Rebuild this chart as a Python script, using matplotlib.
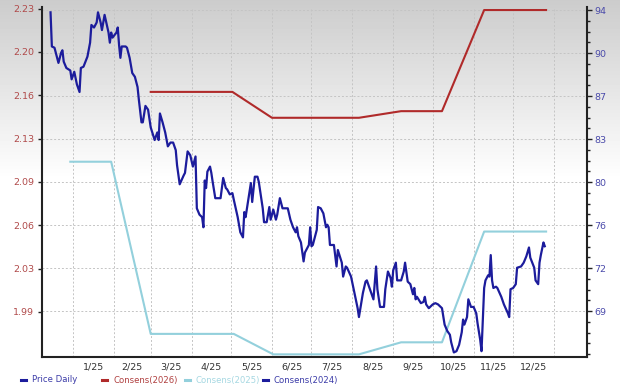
import numpy as np
import pandas as pd
import matplotlib
matplotlib.use("Agg")
import matplotlib.pyplot as plt
from matplotlib.lines import Line2D
from matplotlib.ticker import FixedLocator, NullFormatter, AutoMinorLocator

# days counted from 2025-01-01, daily close
price_day = [-17, -16, -14, -11, -9, -8, -7, -5, -2, -1, 1, 3, 5, 6, 8, 11, 13, 14, 16, 18,
             19, 21, 22, 24, 27, 28, 29, 30, 33, 34, 35, 36, 37, 40, 41, 43, 45, 47, 49, 50,
             52, 53, 55, 57, 59, 62, 64, 65, 66, 68, 70, 72, 74, 76, 78, 79, 81, 84, 85, 87,
             89, 91, 93, 94, 96, 98, 99, 100, 101, 102, 104, 105, 106, 108, 112, 114, 116, 117, 119, 121,
             122, 125, 127, 129, 130, 131, 135, 136, 138, 140, 141, 144, 145, 147, 149, 150, 152, 154, 155, 157,
             159, 163, 165, 167, 169, 170, 171, 173, 175, 176, 179, 180, 181, 182, 185, 186, 188, 190, 192, 193,
             194, 195, 197, 198, 200, 201, 204, 205, 207, 208, 211, 213, 216, 217, 220, 222, 223, 226, 228, 230,
             231, 233, 236, 237, 239, 241, 242, 243, 245, 246, 249, 251, 252, 254, 256, 258, 259, 260, 261, 264,
             266, 267, 268, 270, 271, 273, 275, 277, 280, 282, 284, 286, 287, 289, 291, 293, 295, 296, 297, 299,
             300, 302, 304, 306, 307, 309, 310, 312, 313, 315, 316, 317, 318, 319, 321, 322, 325, 327, 330, 331,
             332, 334, 336, 337, 340, 342, 344, 346, 347, 350, 351, 353, 354, 355, 357, 358]
price_val = [2.227, 2.200, 2.199, 2.187, 2.195, 2.197, 2.188, 2.183, 2.181, 2.174, 2.180, 2.170, 2.164, 2.183, 2.184, 2.192, 2.203, 2.217, 2.215, 2.219,
             2.227, 2.219, 2.213, 2.225, 2.211, 2.203, 2.211, 2.207, 2.211, 2.215, 2.201, 2.191, 2.200, 2.200, 2.199, 2.191, 2.179, 2.176, 2.168, 2.158,
             2.140, 2.140, 2.153, 2.150, 2.136, 2.126, 2.132, 2.126, 2.147, 2.140, 2.132, 2.121, 2.124, 2.124, 2.118, 2.106, 2.091, 2.098, 2.100, 2.117,
             2.114, 2.105, 2.113, 2.072, 2.067, 2.065, 2.057, 2.094, 2.088, 2.101, 2.105, 2.100, 2.093, 2.080, 2.080, 2.096, 2.088, 2.087, 2.083, 2.084,
             2.079, 2.065, 2.053, 2.049, 2.069, 2.065, 2.092, 2.077, 2.097, 2.097, 2.093, 2.072, 2.061, 2.061, 2.073, 2.063, 2.071, 2.063, 2.067, 2.080,
             2.072, 2.072, 2.063, 2.057, 2.053, 2.057, 2.050, 2.045, 2.030, 2.037, 2.043, 2.057, 2.042, 2.043, 2.055, 2.073, 2.072, 2.068, 2.057, 2.059,
             2.057, 2.043, 2.043, 2.043, 2.026, 2.039, 2.029, 2.018, 2.026, 2.025, 2.018, 2.008, 1.993, 1.986, 2.005, 2.014, 2.015, 2.006, 2.000, 2.026,
             2.008, 1.994, 1.994, 2.008, 2.022, 2.017, 2.010, 2.023, 2.029, 2.015, 2.015, 2.022, 2.029, 2.014, 2.012, 2.004, 2.009, 2.000, 2.002, 1.997,
             1.998, 2.002, 1.996, 1.993, 1.994, 1.996, 1.997, 1.996, 1.993, 1.980, 1.975, 1.972, 1.966, 1.958, 1.959, 1.964, 1.974, 1.984, 1.980, 1.986,
             2.000, 1.994, 1.994, 1.989, 1.981, 1.968, 1.959, 2.009, 2.015, 2.019, 2.018, 2.035, 2.015, 2.009, 2.010, 2.009, 2.002, 1.996, 1.989, 1.986,
             2.008, 2.009, 2.012, 2.025, 2.026, 2.029, 2.034, 2.041, 2.033, 2.025, 2.015, 2.012, 2.029, 2.035, 2.045, 2.042]

cons26_day = [59, 121, 151, 217, 249, 280, 312, 359]
cons26_val = [87.2, 87.2, 85.05, 85.05, 85.6, 85.6, 94.0, 94.0]

cons25_day = [-2, 29, 59, 122, 152, 217, 249, 280, 312, 359]
cons25_val = [81.4, 81.4, 67.1, 67.1, 65.4, 65.4, 66.4, 66.4, 75.6, 75.6]

cons24_day = []
cons24_val = []

left_labels = ['2.23', '2.20', '2.16', '2.13', '2.09', '2.06', '2.03', '1.99']
right_labels = ['94', '90', '87', '83', '80', '76', '72', '69']

navy = '#1c1c9c'
red = '#b02a2a'
cyan = '#93d0dc'

start = pd.Timestamp('2025-01-01')
months = pd.date_range('2025-01-01', '2026-01-01', freq='MS')
month_start = [(m - start).days for m in months]
month_mid = [(a + b) / 2 for a, b in zip(month_start[:-1], month_start[1:])]
month_labels = [f'{m.month}/{m:%y}' for m in months[:-1]]

fig = plt.figure(figsize=(6.2, 3.88), dpi=100)

# grey-to-white backdrop
bg = fig.add_axes([0, 0, 1, 1], zorder=0)
bg.axis('off')
shade = np.concatenate([np.linspace(0.80, 1.0, 180), np.ones(208)])
bg.imshow(shade[:, None], cmap='gray', vmin=0, vmax=1, aspect='auto',
          extent=[0, 1, 0, 1], origin='upper')

ax = fig.add_axes([0.0677, 0.0799, 0.879, 0.902], zorder=2)
ax2 = ax.twinx()
ax2.set_zorder(1)
ax.patch.set_visible(False)
ax2.patch.set_visible(False)

ax2.plot(cons25_day, cons25_val, color=cyan, lw=1.5)
ax2.plot(cons26_day, cons26_val, color=red, lw=1.5)
ax2.plot(cons24_day, cons24_val, color=navy, lw=1.5)
ax.plot(price_day, price_val, color=navy, lw=1.6)

ax.set_xlim(-23.5, 390)
ax.set_ylim(1.9544, 2.2312)
ax2.set_ylim(65.18, 94.25)

left_ticks = np.linspace(2.23, 1.99, 8)
right_ticks = np.linspace(94, 69, 8)
ax.set_yticks(left_ticks)
ax.set_yticklabels(left_labels)
ax2.set_yticks(right_ticks)
ax2.set_yticklabels(right_labels)
ax2.yaxis.set_minor_locator(AutoMinorLocator(4))

ax.xaxis.set_major_locator(FixedLocator(month_start))
ax.xaxis.set_major_formatter(NullFormatter())
ax.set_xticks(month_mid, minor=True)
ax.set_xticklabels(month_labels, minor=True)

# grid lives on the lower axes so every line sits above it
ax2.xaxis.set_visible(True)
ax2.tick_params(axis='x', which='both', length=0, labelbottom=False, labeltop=False)
ax2.grid(True, which='major', color='#c4c4c4', linestyle=(0, (2, 2)), lw=0.7)
ax2.set_axisbelow(True)

for s in ['top', 'right']:
    ax.spines[s].set_visible(False)
for s in ['top', 'left', 'bottom']:
    ax2.spines[s].set_visible(False)
for sp in [ax.spines['left'], ax.spines['bottom'], ax2.spines['right']]:
    sp.set_color('#222222')
    sp.set_linewidth(1.5)

ax.tick_params(axis='x', which='both', length=0, labelsize=6.8, labelcolor='#333333', pad=4)
ax.tick_params(axis='y', length=3, width=1, color='#222222', labelsize=6.8,
               labelcolor='#b04a4a', pad=2.5)
ax2.tick_params(axis='y', which='major', length=3.5, width=1, color='#222222', labelsize=6.8,
                labelcolor='#4a4aaa', pad=2)
ax2.tick_params(axis='y', which='minor', length=2.5, width=1, color='#222222')

# legend row along the bottom
legend_items = [('Price Daily', navy, '#3c3ca8', 21),
                ('Consens(2026)', red, '#b04040', 102),
                ('Consens(2025)', cyan, '#a6d8e2', 185),
                ('Consens(2024)', navy, '#3c3ca8', 263)]
ly = 1 - 380 / 388
for label, lc, tc, px in legend_items:
    fig.add_artist(Line2D([px / 620, (px + 5) / 620], [ly, ly], color=lc, lw=2.2,
                          transform=fig.transFigure))
    fig.text((px + 11) / 620, ly, label, color=tc, fontsize=6.1, va='center', ha='left')

fig.savefig('out.png', dpi=100)
